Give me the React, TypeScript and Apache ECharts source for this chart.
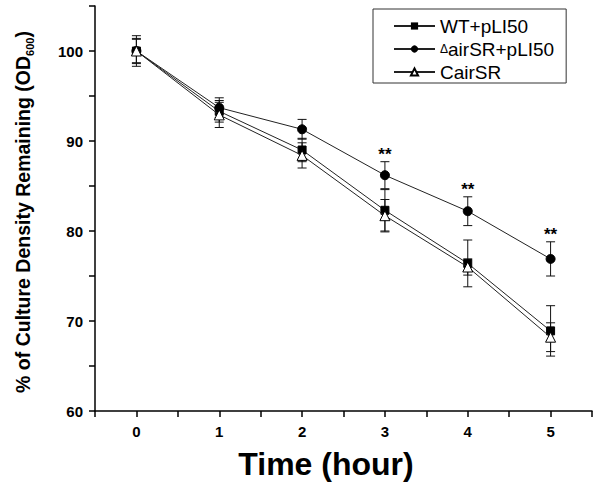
import React, { useEffect, useRef } from "react";
import * as echarts from "echarts";

const hours = [0, 1, 2, 3, 4, 5];
const wtValues = [100, 93.3, 89.0, 82.3, 76.4, 68.9];
const wtErrors = [1.7, 1.2, 1.3, 2.3, 2.6, 2.8];
const mutValues = [100, 93.7, 91.3, 86.2, 82.2, 76.9];
const mutErrors = [1.4, 1.1, 1.1, 1.5, 1.6, 1.9];
const compValues = [100, 92.9, 88.4, 81.7, 76.0, 68.2];
const compErrors = [1.3, 1.4, 1.4, 1.8, 0.9, 1.6];
const starHours = [3, 4, 5];
const starLabels = ["**", "**", "**"];
const seriesNames = ["WT+pLI50", "ΔairSR+pLI50", "CairSR"];
const yTitle = "% of Culture Density Remaining (OD";
const ySub = "600";
const xTitle = "Time (hour)";

const FONT = "'Liberation Sans', Arial, sans-serif";

export default function App() {
  const ref = useRef<HTMLDivElement>(null);
  useEffect(() => {
    if (!ref.current) return;
    const chart = echarts.init(ref.current, null, { renderer: "svg" });

    const errData = (vals: number[], errs: number[]) =>
      hours.map((h, i) => [h, vals[i], errs[i]]);

    const errSeries = (vals: number[], errs: number[]) => ({
      type: "custom",
      z: 1,
      silent: true,
      data: errData(vals, errs),
      encode: { x: 0, y: 1 },
      renderItem: (params: any, api: any) => {
        const x = api.value(0);
        const y = api.value(1);
        const e = api.value(2);
        const t = api.coord([x, y + e]);
        const b = api.coord([x, y - e]);
        const hw = 4.5;
        const st = { stroke: "#111", lineWidth: 1 };
        return {
          type: "group",
          children: [
            { type: "line", shape: { x1: t[0], y1: t[1], x2: b[0], y2: b[1] }, style: st },
            { type: "line", shape: { x1: t[0] - hw, y1: t[1], x2: t[0] + hw, y2: t[1] }, style: st },
            { type: "line", shape: { x1: b[0] - hw, y1: b[1], x2: b[0] + hw, y2: b[1] }, style: st },
          ],
        };
      },
    });

    const starData = starHours.map((h, k) => {
      const i = hours.indexOf(h);
      return [h, mutValues[i] + mutErrors[i], k];
    });

    chart.setOption({
      animation: false,
      backgroundColor: "#fff",
      grid: { left: 95, right: 8, top: 6, bottom: 79, containLabel: false },
      legend: {
        orient: "vertical",
        left: 373,
        top: 9,
        data: seriesNames,
        itemWidth: 41,
        itemHeight: 9,
        itemGap: 3,
        padding: [7, 12, 1, 20],
        borderColor: "#333",
        borderWidth: 1,
        textStyle: {
          fontFamily: FONT,
          fontSize: 19,
          lineHeight: 20,
          color: "#000",
          rich: { d: { fontFamily: FONT, fontSize: 12, lineHeight: 20, color: "#000" } },
        },
        formatter: (name: string) =>
          name.startsWith("Δ") ? "{d|Δ}" + name.slice(1) : name,
      },
      xAxis: {
        type: "value",
        min: -0.5,
        max: 5.5,
        interval: 0.5,
        splitLine: { show: false },
        axisLine: { onZero: false, lineStyle: { color: "#000", width: 1.5 } },
        axisTick: { show: true, length: 6, lineStyle: { color: "#000", width: 1.5 } },
        axisLabel: {
          margin: 13,
          fontFamily: FONT,
          fontSize: 15,
          fontWeight: "bold",
          color: "#000",
          formatter: (v: number) => (Math.abs(v - Math.round(v)) < 1e-6 && v >= 0 ? String(Math.round(v)) : ""),
        },
      },
      yAxis: {
        type: "value",
        min: 60,
        max: 105,
        interval: 5,
        splitLine: { show: false },
        axisLine: { show: true, onZero: false, lineStyle: { color: "#000", width: 1.5 } },
        axisTick: { show: true, length: 6, lineStyle: { color: "#000", width: 1.5 } },
        axisLabel: {
          margin: 12,
          fontFamily: FONT,
          fontSize: 15,
          fontWeight: "bold",
          color: "#000",
          formatter: (v: number) => (v % 10 === 0 && v <= 100 ? String(v) : ""),
        },
      },
      graphic: [
        {
          type: "text",
          x: 326,
          y: 464,
          style: {
            text: xTitle,
            fontFamily: FONT,
            fontSize: 32,
            fontWeight: "bold",
            fill: "#000",
            align: "center",
            verticalAlign: "middle",
          },
        },
        {
          type: "text",
          x: 23,
          y: 212,
          rotation: Math.PI / 2,
          style: {
            text: "{a|" + yTitle + "}{s|" + ySub + "}{a|)}",
            align: "center",
            verticalAlign: "middle",
            fill: "#000",
            rich: {
              a: { fontFamily: FONT, fontSize: 19.5, fontWeight: "bold", fill: "#000", lineHeight: 24, verticalAlign: "middle" },
              s: { fontFamily: FONT, fontSize: 11, fontWeight: "bold", fill: "#000", lineHeight: 24, verticalAlign: "bottom", padding: [12, 0, 0, 0] },
            },
          },
        },
      ],
      series: [
        errSeries(wtValues, wtErrors),
        errSeries(mutValues, mutErrors),
        errSeries(compValues, compErrors),
        {
          name: seriesNames[0],
          type: "line",
          z: 3,
          data: hours.map((h, i) => [h, wtValues[i]]),
          symbol: "rect",
          symbolSize: 8,
          lineStyle: { color: "#222", width: 1 },
          itemStyle: { color: "#000", borderColor: "#000" },
        },
        {
          name: seriesNames[1],
          type: "line",
          z: 3,
          data: hours.map((h, i) => [h, mutValues[i]]),
          symbol: "circle",
          symbolSize: 9,
          lineStyle: { color: "#222", width: 1 },
          itemStyle: { color: "#000", borderColor: "#000" },
        },
        {
          name: seriesNames[2],
          type: "line",
          z: 4,
          data: hours.map((h, i) => [h, compValues[i]]),
          symbol: "triangle",
          symbolSize: 10,
          lineStyle: { color: "#222", width: 1 },
          itemStyle: { color: "#fff", borderColor: "#000", borderWidth: 1 },
        },
        {
          type: "custom",
          z: 5,
          silent: true,
          data: starData,
          encode: { x: 0, y: 1 },
          renderItem: (params: any, api: any) => {
            const p = api.coord([api.value(0), api.value(1)]);
            return {
              type: "text",
              x: p[0],
              y: p[1] + 1,
              style: {
                text: starLabels[api.value(2)],
                fontFamily: FONT,
                fontSize: 17,
                fontWeight: "bold",
                fill: "#000",
                align: "center",
                verticalAlign: "bottom",
              },
            };
          },
        },
      ],
    });
    return () => chart.dispose();
  }, []);
  return (
    <div
      ref={ref}
      style={{ position: "absolute", left: 0, top: 0, width: 600, height: 490 }}
    />
  );
}
